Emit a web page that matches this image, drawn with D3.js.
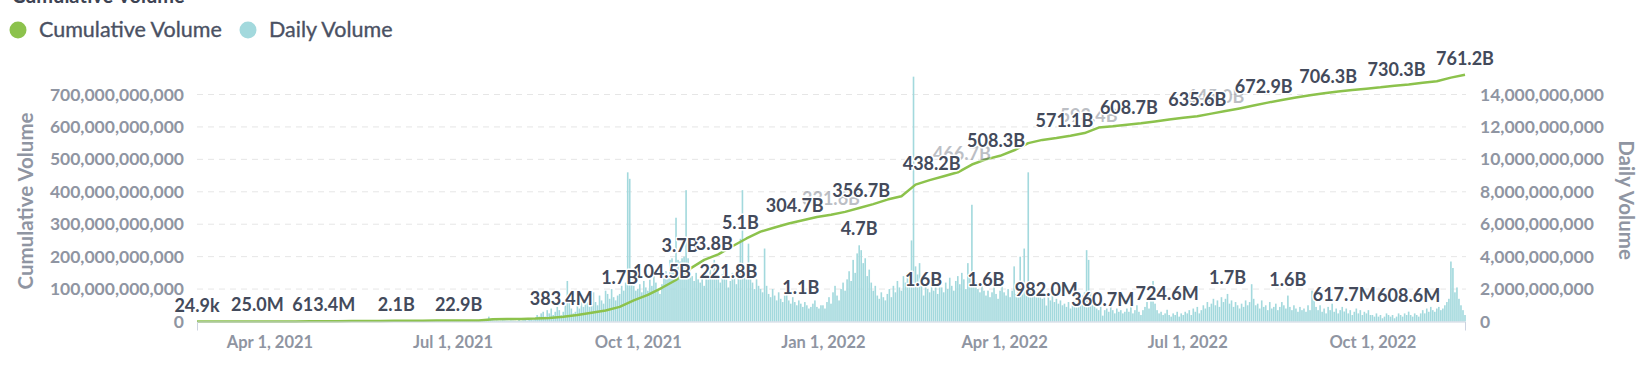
<!DOCTYPE html>
<html><head><meta charset="utf-8">
<script src="https://cdn.jsdelivr.net/npm/d3@7/dist/d3.min.js"></script>
<style>
body{margin:0;background:#fff;}
svg{display:block;font-family:Lato,"Open Sans",sans-serif;}
</style></head><body>
<svg id="chart" width="1648" height="365"></svg>
<script>
// ---------- DATA (values in billions) ----------
const chartTitle = "Cumulative Volume";
const seriesNames = ["Cumulative Volume", "Daily Volume"];
const xTickLabels = ["2021-04-01","2021-07-01","2021-10-01","2022-01-01","2022-04-01","2022-07-01","2022-10-01"];
const leftTicks = [0,100e9,200e9,300e9,400e9,500e9,600e9,700e9];
const rightTicks = [0,2e9,4e9,6e9,8e9,10e9,12e9,14e9];

// daily volume, one value per day, grouped by month
const d2021_02 = [0.0000249,0.001,0.002,0.001,0.003];
const d2021_03 = [0.002,0.001,0.002,0.003,0.002,0.004,0.002,0.003,0.001,0.002,0.003,0.002,0.004,0.003,0.002,0.003,0.005,0.002,0.004,0.003,0.002,0.004,0.003,0.005,0.004,0.01,0.02,0.01,0.015,0.02,0.01];
const d2021_04 = [0.012,0.018,0.02,0.015,0.02,0.025,0.018,0.02,0.03,0.022,0.018,0.025,0.02,0.03,0.028,0.02,0.025,0.03,0.022,0.02,0.03,0.025,0.02,0.028,0.03,0.04,0.035,0.03,0.04,0.05];
const d2021_05 = [0.035,0.04,0.03,0.045,0.04,0.035,0.05,0.04,0.03,0.045,0.04,0.05,0.035,0.04,0.03,0.045,0.04,0.035,0.05,0.04,0.03,0.04,0.035,0.045,0.04,0.05,0.045,0.04,0.06,0.05,0.045];
const d2021_06 = [0.05,0.06,0.04,0.05,0.07,0.05,0.06,0.05,0.04,0.06,0.05,0.07,0.06,0.05,0.04,0.06,0.05,0.06,0.07,0.05,0.06,0.04,0.05,0.06,0.05,0.07,0.06,0.05,0.06,0.05];
const d2021_07 = [0.05,0.06,0.04,0.05,0.06,0.05,0.07,0.06,0.05,0.04,0.06,0.05,0.07,0.06,0.05,0.06,0.08,0.1,0.3,0.12,0.08,0.06,0.07,0.05,0.06,0.08,0.07,0.06,0.05,0.07,0.06];
const d2021_08 = [0.05,0.03,0.1,0.05,0.08,0.1,0.06,0.1,0.12,0.08,0.15,0.4,0.3,0.5,0.6,0.3,0.7,0.5,0.8,0.4,0.6,0.9,0.7,0.3834,0.6,1.0,2.5,1.2,0.8,0.5,0.6];
const d2021_09 = [1.1,0.8,1.3,0.9,1.5,1.2,0.9,1.4,1.8,1.2,1.0,1.6,1.3,1.1,1.9,1.7,1.4,2.0,1.5,1.3,1.6,1.7,2.2,1.9,2.4,9.2,8.8,2.6,2.2,1.9];
const d2021_10 = [2.0,2.3,1.8,2.5,2.1,1.9,2.6,2.2,2.8,2.4,2.0,1.7,2.3,2.9,3.1,2.7,3.8,3.9,3.6,6.4,3.8,3.7,3.9,4.0,8.1,3.9,3.2,2.8,2.5,3.0,2.6];
const d2021_11 = [2.4,2.8,2.2,3.0,2.6,3.2,2.9,3.8,3.3,2.7,2.4,2.9,3.4,2.6,2.1,2.5,3.0,2.7,2.3,2.8,5.1,8.1,3.0,2.6,4.8,2.9,2.4,2.0,2.6,2.2];
const d2021_12 = [2.0,1.8,4.5,2.2,1.7,1.5,2.0,1.6,1.3,1.8,1.4,1.2,1.6,1.9,1.3,1.1,1.5,1.2,1.0,1.3,1.1,0.9,1.2,1.0,0.8,0.9,1.1,1.3,0.9,0.8,1.0];
const d2022_01 = [1.0,0.8,1.2,1.5,1.1,1.8,2.2,1.6,1.3,2.0,2.4,1.9,2.6,3.1,2.5,3.8,3.0,4.2,4.7,4.4,3.6,3.9,2.8,3.2,2.4,1.9,2.2,1.6,1.4,1.8,1.5];
const d2022_02 = [1.3,1.7,2.0,1.5,2.2,1.8,2.5,2.1,1.9,2.8,2.4,3.0,2.6,5.0,15.1,3.4,2.9,3.6,2.7,1.6,2.3,2.0,1.8,2.5,1.9,2.2,1.7,2.1];
const d2022_03 = [2.1,1.8,2.4,2.0,2.7,2.2,1.9,2.5,2.8,2.3,3.0,2.6,2.0,3.6,2.9,7.2,3.1,2.4,2.0,1.8,2.2,1.9,1.6,1.9,1.5,1.8,2.1,1.7,1.4,1.9,2.2];
const d2022_04 = [1.8,1.6,2.0,1.5,1.9,3.4,1.7,2.1,4.0,1.8,4.5,2.2,9.2,2.0,1.7,1.9,1.5,1.8,1.6,1.4,1.7,0.982,1.5,1.3,1.6,1.2,1.4,1.1,1.3,1.0];
const d2022_05 = [1.1,0.9,1.2,0.8,1.0,1.3,0.9,1.1,1.4,1.6,1.8,4.4,3.8,1.9,1.3,1.0,0.8,0.7,0.9,0.3607,0.7,0.8,0.6,0.9,0.7,0.5,0.8,0.6,0.7,0.5,0.6];
const d2022_06 = [0.8,0.6,0.9,0.5,0.7,1.0,0.6,0.4,0.7,0.9,1.2,0.8,1.4,2.5,1.1,0.7,0.5,0.6,0.4,0.5,0.7246,0.4,0.3,0.5,0.4,0.6,0.3,0.5,0.4,0.6];
const d2022_07 = [0.5,0.7,0.4,0.8,0.6,0.9,0.5,0.7,1.0,0.8,1.2,0.9,1.1,1.4,1.0,1.3,0.9,1.5,1.2,1.4,1.7,1.1,1.3,0.9,1.2,1.0,0.8,1.1,0.9,1.3,1.0];
const d2022_08 = [1.2,2.3,1.4,1.0,1.1,0.8,1.3,0.9,1.0,0.7,1.2,0.8,0.9,1.1,0.7,0.9,1.2,1.0,0.8,1.6,0.9,0.7,1.0,0.8,0.6,0.9,0.7,0.8,0.6,1.0,0.7];
const d2022_09 = [1.9,1.3,0.9,0.7,1.0,0.6,0.8,0.5,0.9,0.7,1.1,0.6,0.8,0.5,0.7,0.9,0.6177,0.8,0.5,0.7,0.4,0.6,0.8,0.5,0.7,0.4,0.6,0.5,0.7,0.4];
const d2022_10 = [0.4,0.3,0.5,0.3,0.4,0.2,0.3,0.5,0.4,0.3,0.4,0.2,0.3,0.5,0.4,0.3,0.5,0.4,0.6086,0.4,0.3,0.5,0.4,0.3,0.5,0.7,0.5,0.8,0.6,0.9,0.7];
const d2022_11 = [0.6,0.8,0.9,0.7,0.8,1.0,1.2,1.4,3.7,3.3,1.8,2.1,1.4,1.0,0.7,0.4];
const dailyMonthStarts = ["2021-02-24","2021-03-01","2021-04-01","2021-05-01","2021-06-01","2021-07-01","2021-08-01","2021-09-01","2021-10-01","2021-11-01","2021-12-01","2022-01-01","2022-02-01","2022-03-01","2022-04-01","2022-05-01","2022-06-01","2022-07-01","2022-08-01","2022-09-01","2022-10-01","2022-11-01"];
const dailyMonthValues = [d2021_02,d2021_03,d2021_04,d2021_05,d2021_06,d2021_07,d2021_08,d2021_09,d2021_10,d2021_11,d2021_12,d2022_01,d2022_02,d2022_03,d2022_04,d2022_05,d2022_06,d2022_07,d2022_08,d2022_09,d2022_10,d2022_11];

// cumulative volume, read every 7 days from 2021-02-24
const cumStart = "2021-02-24";
const cumStepDays = 7;
const cumulativeB = [0.0000249,0.001,0.005,0.01,0.02,0.05,0.1,0.2,0.4,0.6,0.9,1.2,1.5,1.8,2.1,2.3,2.5,2.7,2.9,3.1,3.4,7.2,7.5,8,9,11,15,20,27,34,45,65,82,104,128,163,190,207,232,256,277,290,302,312,322,329,338,350,362,376,386,422,436,448,460,484,500,511,528,550,560,566,573,581,598,602,607,611,617,623,628,633,641,649,657,666,675,683,691,698,704,709,714,718,722,727,731,736,741,752,761.2];

// data labels
const cumLabelDates = ["2021-02-24","2021-03-26","2021-04-28","2021-06-03","2021-07-04","2021-10-13","2021-11-15","2021-12-18","2022-01-05","2022-01-20","2022-02-24","2022-03-11","2022-03-28","2022-05-01","2022-05-13","2022-06-02","2022-07-06","2022-07-15","2022-08-08","2022-09-09","2022-10-13","2022-11-16"];
const cumLabelTexts = ["24.9k","25.0M","613.4M","2.1B","22.9B","104.5B","221.8B","304.7B","331.6B","356.7B","438.2B","466.7B","508.3B","571.1B","593.4B","608.7B","635.6B","645.0B","672.9B","706.3B","730.3B","761.2B"];
const cumLabelFaint = [0,0,0,0,0,0,0,0,1,0,0,1,0,0,1,0,0,1,0,0,0,0];
const cumLabelBelow = [0,0,0,0,0,0,1,0,0,0,0,0,0,0,0,0,0,0,0,0,0,0];
const dailyLabelDates = ["2021-08-24","2021-09-22","2021-10-22","2021-11-08","2021-11-21","2021-12-21","2022-01-19","2022-02-20","2022-03-23","2022-04-22","2022-05-20","2022-06-21","2022-07-21","2022-08-20","2022-09-17","2022-10-19"];
const dailyLabelTexts = ["383.4M","1.7B","3.7B","3.8B","5.1B","1.1B","4.7B","1.6B","1.6B","982.0M","360.7M","724.6M","1.7B","1.6B","617.7M","608.6M"];

// ---------- BUILD ----------
const parse = d3.utcParse("%Y-%m-%d");
const daily = [];
dailyMonthStarts.forEach((s, m) => {
  const st = parse(s);
  dailyMonthValues[m].forEach((v, k) => daily.push({date: d3.utcDay.offset(st, k), v: v * 1e9}));
});
const cum = cumulativeB.map((v, k) => ({date: d3.utcDay.offset(parse(cumStart), k * cumStepDays), v: v * 1e9}));

const svg = d3.select("#chart");
const L = 197, R = 1465, B = 321.5, T700 = 94.5;
const x = d3.scaleUtc().domain([daily[0].date, daily[daily.length - 1].date]).range([L, R]);
const yL = d3.scaleLinear().domain([0, 700e9]).range([B, T700]);
const yR = d3.scaleLinear().domain([0, 14e9]).range([B, T700]);

const textDark = "#434a5b", textGray = "#8f95a2";
const green = "#8cc24c", teal = "#a3d9dd";

// title (cut off at top)
svg.append("text").attr("x", 12).attr("y", 3).attr("font-size", 20).attr("font-weight", "bold")
  .attr("fill", "#3c4353").text(chartTitle);

// legend
const legend = [{c: green, t: seriesNames[0], x: 18}, {c: teal, t: seriesNames[1], x: 248}];
legend.forEach(l => {
  svg.append("circle").attr("cx", l.x).attr("cy", 30).attr("r", 8.5).attr("fill", l.c);
  svg.append("text").attr("x", l.x + 21).attr("y", 37).attr("font-size", 21.5)
    .attr("fill", "#4a5163").attr("stroke", "#4a5163").attr("stroke-width", 0.35).text(l.t);
});

// grid
svg.append("g").selectAll("line").data(leftTicks.slice(1)).join("line")
  .attr("x1", L).attr("x2", R + 1).attr("y1", d => yL(d)).attr("y2", d => yL(d))
  .attr("stroke", "#e6e6e6").attr("stroke-dasharray", "6,5");

// bars
const step = x(daily[1].date) - x(daily[0].date);
svg.append("g").selectAll("rect").data(daily).join("rect")
  .attr("x", d => x(d.date) - step * 0.4).attr("width", step * 0.8)
  .attr("y", d => yR(d.v)).attr("height", d => B - yR(d.v))
  .attr("fill", teal);

// line
svg.append("path").datum(cum).attr("fill", "none").attr("stroke", green).attr("stroke-width", 2.5)
  .attr("stroke-linejoin", "round")
  .attr("d", d3.line().x(d => x(d.date)).y(d => yL(d.v)));

// axes
const xAxis = svg.append("g").attr("transform", `translate(0,${B})`)
  .call(d3.axisBottom(x).tickValues(xTickLabels.map(parse)).tickSize(0).tickSizeOuter(9).tickPadding(15)
    .tickFormat(d3.utcFormat("%b %-d, %Y")));
xAxis.select(".domain").attr("stroke", "#ccd3e0");
xAxis.selectAll("text").attr("font-size", 16.5).attr("font-weight", "bold").attr("fill", textGray)
  .attr("font-family", "Lato, sans-serif");

const yAxisL = svg.append("g").attr("transform", `translate(${L},0)`)
  .call(d3.axisLeft(yL).tickValues(leftTicks).tickSize(0).tickPadding(13).tickFormat(d3.format(",")));
yAxisL.select(".domain").remove();
yAxisL.selectAll("text").attr("font-size", 17.5).attr("font-weight", "bold").attr("fill", textGray)
  .attr("font-family", "Lato, sans-serif");

const yAxisR = svg.append("g").attr("transform", `translate(${R + 1},0)`)
  .call(d3.axisRight(yR).tickValues(rightTicks).tickSize(0).tickPadding(14).tickFormat(d3.format(",")));
yAxisR.select(".domain").remove();
yAxisR.selectAll("text").attr("font-size", 17.5).attr("font-weight", "bold").attr("fill", textGray)
  .attr("font-family", "Lato, sans-serif");

// axis titles
svg.append("text").attr("transform", "translate(25,201) rotate(-90)").attr("text-anchor", "middle")
  .attr("dominant-baseline", "central").attr("font-size", 20.5).attr("font-weight", "bold")
  .attr("fill", textGray).text(seriesNames[0]);
svg.append("text").attr("transform", "translate(1627,200) rotate(90)").attr("text-anchor", "middle")
  .attr("dominant-baseline", "central").attr("font-size", 20.5).attr("font-weight", "bold")
  .attr("fill", textGray).text(seriesNames[1]);

// data labels
function cumAt(dt) {
  const i = d3.bisector(d => d.date).right(cum, dt);
  if (i <= 0) return cum[0].v;
  if (i >= cum.length) return cum[cum.length - 1].v;
  const a = cum[i - 1], b = cum[i];
  return a.v + (b.v - a.v) * ((dt - a.date) / (b.date - a.date));
}
const dailyByKey = new Map(daily.map(d => [+d.date, d.v]));
const labels = svg.append("g").attr("font-size", 18).attr("font-weight", "bold")
  .attr("text-anchor", "middle").attr("fill", textDark)
  .attr("stroke", "#fff").attr("stroke-width", 3).attr("stroke-linejoin", "round")
  .attr("paint-order", "stroke");
const cumL = cumLabelDates.map((s, k) => ({date: parse(s), t: cumLabelTexts[k], faint: cumLabelFaint[k], below: cumLabelBelow[k]}));
cumL.sort((a, b) => b.faint - a.faint);
cumL.forEach(l => {
  const py = yL(cumAt(l.date));
  labels.append("text").attr("x", x(l.date)).attr("y", l.below ? py + 29 : py - 10)
    .attr("opacity", l.faint ? 0.35 : 1).text(l.t);
});
dailyLabelDates.forEach((s, k) => {
  const dt = parse(s);
  const v = dailyByKey.get(+dt) || 0;
  labels.append("text").attr("x", x(dt)).attr("y", yR(v) - 10).text(dailyLabelTexts[k]);
});
</script>
</body></html>
